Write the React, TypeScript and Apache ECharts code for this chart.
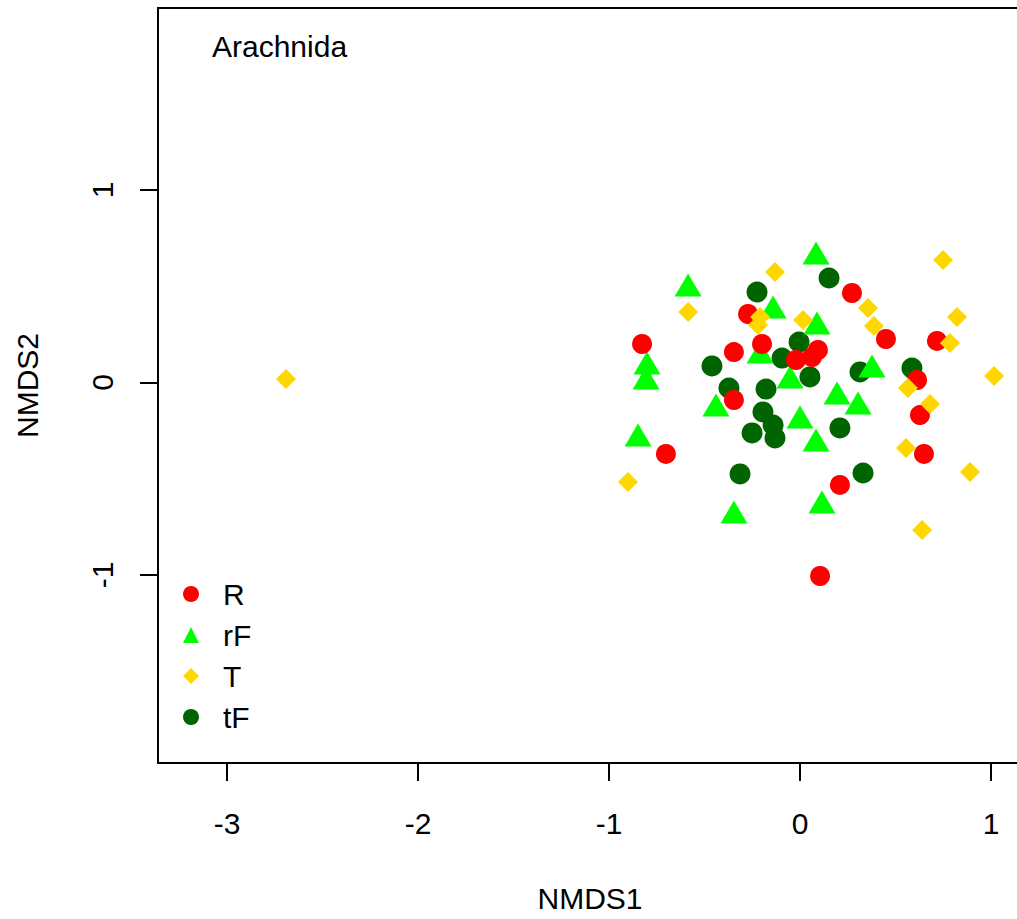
import React, { useEffect, useRef } from "react";
import * as echarts from "echarts";

const GROUP_NAMES = ["R", "rF", "T", "tF"];
const X_TICKS = [-3, -2, -1, 0, 1];
const Y_TICKS = [-1, 0, 1];
const PANEL_LABEL = "Arachnida";
const X_TITLE = "NMDS1";
const Y_TITLE = "NMDS2";

const R_PTS = [
  [-0.827, 0.2], [-0.346, 0.158], [-0.272, 0.356], [-0.199, 0.2], [-0.346, -0.091],
  [-0.702, -0.371], [-0.021, 0.117], [0.063, 0.132], [0.094, 0.169], [0.272, 0.465],
  [0.45, 0.226], [0.717, 0.216], [0.613, 0.013], [0.628, -0.169], [0.649, -0.371],
  [0.209, -0.532], [0.105, -1.005],
];
const RF_PTS = [
  [-0.586, 0.506], [-0.801, 0.101], [-0.806, 0.023], [-0.848, -0.273], [-0.141, 0.392],
  [0.084, 0.673], [0.089, 0.309], [-0.209, 0.158], [-0.052, 0.029], [0.194, -0.055],
  [0.377, 0.086], [0.304, -0.106], [0.084, -0.299], [0.115, -0.621], [-0.346, -0.673],
  [-0.44, -0.117], [0.0, -0.179],
];
const T_PTS = [
  [-2.691, 0.018], [-0.901, -0.517], [-0.586, 0.366], [-0.131, 0.574], [-0.209, 0.34],
  [-0.22, 0.299], [0.016, 0.325], [0.749, 0.636], [0.356, 0.387], [0.387, 0.294],
  [0.822, 0.34], [0.785, 0.205], [1.016, 0.034], [0.565, -0.029], [0.681, -0.112],
  [0.555, -0.34], [0.89, -0.465], [0.639, -0.766],
];
const TF_PTS = [
  [-0.461, 0.086], [-0.225, 0.47], [0.152, 0.543], [-0.372, -0.029], [-0.178, -0.034],
  [-0.094, 0.127], [-0.005, 0.21], [0.052, 0.029], [0.314, 0.055], [0.586, 0.075],
  [-0.194, -0.153], [-0.141, -0.221], [-0.131, -0.288], [-0.251, -0.262], [-0.314, -0.475],
  [0.209, -0.236], [0.33, -0.47],
];

const FONT = "'Liberation Sans', Arial, Helvetica, sans-serif";

export default function App() {
  const ref = useRef<HTMLDivElement | null>(null);

  useEffect(() => {
    if (!ref.current) return;
    const chart = echarts.init(ref.current, null, { renderer: "svg" });
    const axisCommon = {
      type: "value" as const,
      splitLine: { show: false },
      axisLine: { show: true, onZero: false, lineStyle: { color: "#000", width: 2 } },
    };
    chart.setOption({
      animation: false,
      backgroundColor: "#ffffff",
      textStyle: { fontFamily: FONT },
      grid: {
        left: 158,
        top: 8,
        width: 864,
        height: 755,
        containLabel: false,
        outerBoundsMode: "none",
        show: true,
        borderColor: "#000",
        borderWidth: 2,
        backgroundColor: "transparent",
      },
      xAxis: {
        ...axisCommon,
        min: -3.3613,
        max: 1.1623,
        name: X_TITLE,
        nameLocation: "middle",
        nameGap: 120,
        nameTextStyle: { fontSize: 30, color: "#000", fontFamily: FONT },
        axisTick: {
          show: true,
          inside: false,
          length: 18,
          customValues: X_TICKS,
          lineStyle: { color: "#000", width: 2 },
        },
        axisLabel: {
          show: true,
          customValues: X_TICKS,
          margin: 45,
          fontSize: 30,
          color: "#000",
          fontFamily: FONT,
        },
      },
      yAxis: {
        ...axisCommon,
        min: -1.9766,
        max: 1.9455,
        name: Y_TITLE,
        nameLocation: "middle",
        nameGap: 116,
        nameTextStyle: { fontSize: 30, color: "#000", fontFamily: FONT },
        axisTick: {
          show: true,
          inside: false,
          length: 18,
          customValues: Y_TICKS,
          lineStyle: { color: "#000", width: 2 },
        },
        axisLabel: {
          show: true,
          customValues: Y_TICKS,
          rotate: 90,
          margin: 41,
          fontSize: 30,
          color: "#000",
          fontFamily: FONT,
        },
      },
      legend: {
        orient: "vertical",
        left: 178,
        top: 574,
        itemWidth: 16,
        itemHeight: 16,
        itemGap: 11,
        data: GROUP_NAMES,
        textStyle: {
          fontSize: 30,
          color: "#000",
          fontFamily: FONT,
          padding: [0, 0, 0, 19],
        },
      },
      graphic: [
        {
          type: "text",
          left: 212,
          top: 31,
          style: {
            text: PANEL_LABEL,
            fontSize: 30,
            fill: "#000",
            fontFamily: FONT,
          },
        },
      ],
      series: [
        {
          name: "tF",
          type: "scatter",
          data: TF_PTS,
          symbol: "circle",
          symbolSize: 21,
          itemStyle: { color: "#006400", opacity: 1 },
        },
        {
          name: "rF",
          type: "scatter",
          data: RF_PTS,
          symbol: "triangle",
          symbolSize: [27, 23],
          itemStyle: { color: "#00FF00", opacity: 1 },
        },
        {
          name: "R",
          type: "scatter",
          data: R_PTS,
          symbol: "circle",
          symbolSize: 20,
          itemStyle: { color: "#FF0000", opacity: 1 },
        },
        {
          name: "T",
          type: "scatter",
          data: T_PTS,
          symbol: "diamond",
          symbolSize: 20,
          itemStyle: { color: "#FFD700", opacity: 1 },
        },
      ],
    });
    return () => chart.dispose();
  }, []);

  return (
    <div
      ref={ref}
      style={{ position: "fixed", left: 0, top: 0, width: 1017, height: 919, background: "#fff" }}
    />
  );
}
